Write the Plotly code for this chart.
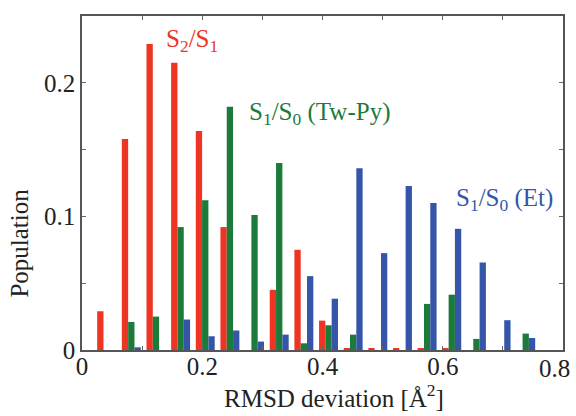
import plotly.graph_objects as go

# Histogram bin centres (RMSD deviation, Å^2)
bin_centers = [0.041, 0.082, 0.123, 0.164, 0.205, 0.246, 0.287, 0.328, 0.369,
               0.410, 0.451, 0.492, 0.533, 0.574, 0.615, 0.656, 0.697, 0.738]

# Population per bin for each crossing type
pop_s2s1 = [0.029, 0.158, 0.229, 0.215, 0.164, 0.092, 0.0, 0.045, 0.075,
            0.022, 0.0012, 0.0012, 0.0012, 0.0012, 0.0012, 0.0, 0.0, 0.0]
pop_s1s0_twpy = [0.0, 0.021, 0.025, 0.092, 0.112, 0.182, 0.101, 0.140, 0.005,
                 0.0185, 0.0115, 0.0, 0.0, 0.0345, 0.0414, 0.0083, 0.0, 0.0123]
pop_s1s0_et = [0.0, 0.002, 0.0, 0.0228, 0.0103, 0.0146, 0.0063, 0.0115, 0.0553,
               0.0384, 0.136, 0.0725, 0.1228, 0.110, 0.0907, 0.0655, 0.0223, 0.009]

series_names = ["S<sub>2</sub>/S<sub>1</sub>",
                "S<sub>1</sub>/S<sub>0</sub> (Tw-Py)",
                "S<sub>1</sub>/S<sub>0</sub> (Et)"]
colors = ["#EE3524", "#1C7A3A", "#3556A8"]

x_ticks = [0, 0.1, 0.2, 0.3, 0.4, 0.5, 0.6, 0.7, 0.8]
x_labels = ["0", "", "0.2", "", "0.4", "", "0.6", "", ""]
x_last_label = "0.8"
y_ticks = [0, 0.05, 0.1, 0.15, 0.2]
y_labels = ["0", "", "0.1", "", "0.2"]

serif = "Times"
ink = "#222222"

fig = go.Figure()
for name, vals, col in zip(series_names, [pop_s2s1, pop_s1s0_twpy, pop_s1s0_et], colors):
    fig.add_trace(go.Bar(x=bin_centers, y=vals, name=name,
                         marker=dict(color=col, line=dict(width=0))))

axis_common = dict(showline=True, linecolor="#555555", linewidth=1.5, mirror="ticks",
                   ticks="inside", ticklen=4, tickwidth=1.2, tickcolor="#666666",
                   showgrid=False, zeroline=False,
                   tickfont=dict(family=serif, size=25, color=ink))

fig.update_layout(
    width=576, height=416,
    margin=dict(l=82, r=11, t=16, b=66),
    paper_bgcolor="white", plot_bgcolor="white",
    barmode="group", bargap=0.232, bargroupgap=0,
    showlegend=False,
    xaxis=dict(range=[0, 0.8], tickmode="array", tickvals=x_ticks, ticktext=x_labels,
               ticklabelstandoff=-7, **axis_common),
    yaxis=dict(range=[0, 0.25], tickmode="array", tickvals=y_ticks, ticktext=y_labels, **axis_common),
)

# Last x tick label, nudged inward so it stays inside the page
fig.add_annotation(x=0.983, y=-0.008, xref="paper", yref="paper", text=x_last_label,
                   showarrow=False, xanchor="center", yanchor="top",
                   font=dict(family=serif, size=25, color=ink))

# Series labels written next to their bars
label_specs = [
    (series_names[0], 0.1835, 0.2317, "center", colors[0]),
    (series_names[1], 0.275, 0.1772, "left", colors[1]),
    (series_names[2], 0.618, 0.1123, "left", colors[2]),
]
for text, x, y, anchor, col in label_specs:
    fig.add_annotation(x=x, y=y, xref="x", yref="y", text=text, showarrow=False,
                       xanchor=anchor, yanchor="middle",
                       font=dict(family=serif, size=25, color=col))

# Axis titles
fig.add_annotation(x=0.524, y=-0.085, xref="paper", yref="paper",
                   text="RMSD deviation [Å<sup>2</sup>]", showarrow=False,
                   xanchor="center", yanchor="top",
                   font=dict(family=serif, size=25, color=ink))
fig.add_annotation(x=-0.13, y=0.32, xref="paper", yref="paper",
                   text="Population", showarrow=False, textangle=-90,
                   xanchor="center", yanchor="middle",
                   font=dict(family=serif, size=25, color=ink))

fig.write_html("out.html")
